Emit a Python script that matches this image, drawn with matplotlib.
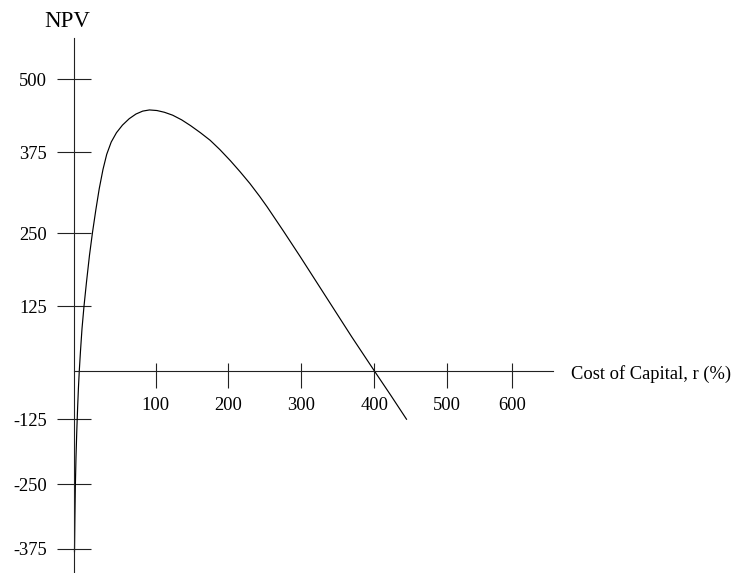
import matplotlib
matplotlib.use("Agg")
import matplotlib.pyplot as plt
from matplotlib.ticker import FixedLocator

# NPV profile (r in %, NPV)
rate = [0, 0.5, 1.1, 2.0, 3.0, 4.2, 5.3, 6.4, 8.0, 10.0, 12.7, 16.0, 20.0, 24.0,
        28.5, 33.0, 38.0, 43.0, 49.0, 56.0, 64.0, 73.0, 82.0, 91.0, 100.0, 110.0,
        120.0, 131.0, 143.0, 155.0, 168.0, 181.0, 194.0, 208.0, 221.0, 234.0,
        247.0, 257.0, 279.0, 301.0, 321.0, 341.0, 370.0, 400.0, 422.0, 443.0]
npv = [-310, -255, -200, -148, -105, -62, -28, 0, 34, 72, 111, 152, 198, 237,
       276, 312, 345, 371, 392, 408, 421, 432, 440, 445, 447, 446,
       443, 438, 430, 420, 408, 395, 379, 360, 341, 321,
       299, 281, 239, 196, 156, 116, 58, 0, -42, -83]

x_tick_labels = ["100", "200", "300", "400", "500", "600"]
y_tick_labels = ["500", "375", "250", "125", "-125", "-250", "-375"]

# the tick marks in the original are not evenly spaced, so place them where they sit
x_tick_pos = [108.3, 205.2, 302.2, 400.0, 497.4, 583.7]
y_tick_pos = [500.0, 374.9, 235.6, 111.0, -83.1, -194.0, -305.3]

plt.rcParams["font.family"] = ["Liberation Serif", "DejaVu Serif"]

fig = plt.figure(figsize=(7.38, 5.73), dpi=100)
ax = fig.add_axes([0, 0, 1, 1])
ax.patch.set_visible(False)

ax.plot(rate, npv, color="black", linewidth=0.85)

ax.set_xlim(-99.4, 885.3)
ax.set_ylim(-346.5, 635.4)

ax.spines[["top", "right"]].set_visible(False)
for side in ("left", "bottom"):
    ax.spines[side].set_position(("data", 0))
    ax.spines[side].set_linewidth(0.8)
    ax.spines[side].set_color("#222222")
ax.spines["left"].set_bounds(-346.5, 570.3)
ax.spines["bottom"].set_bounds(0, 638)

ax.set_xticks(x_tick_pos, x_tick_labels)
ax.xaxis.set_minor_locator(FixedLocator(x_tick_pos))
ax.xaxis.remove_overlapping_locs = False
ax.tick_params(axis="x", which="major", direction="in", length=6.1, width=0.8,
               color="#222222", pad=19.0, labelsize=13.3)
ax.tick_params(axis="x", which="minor", direction="out", length=11.9, width=0.8,
               color="#222222")

ax.set_yticks(y_tick_pos, y_tick_labels)
ax.tick_params(axis="y", direction="inout", length=23.8, width=0.8,
               color="#222222", pad=8.0, labelsize=13.3)

fig.text(67 / 738, 1 - 26.7 / 573, "NPV", ha="center", va="baseline", fontsize=16.5)
fig.text(570.7 / 738, 1 - 379 / 573, "Cost of Capital, r (%)", ha="left",
         va="baseline", fontsize=13.3)

fig.savefig("out.png", dpi=100)
